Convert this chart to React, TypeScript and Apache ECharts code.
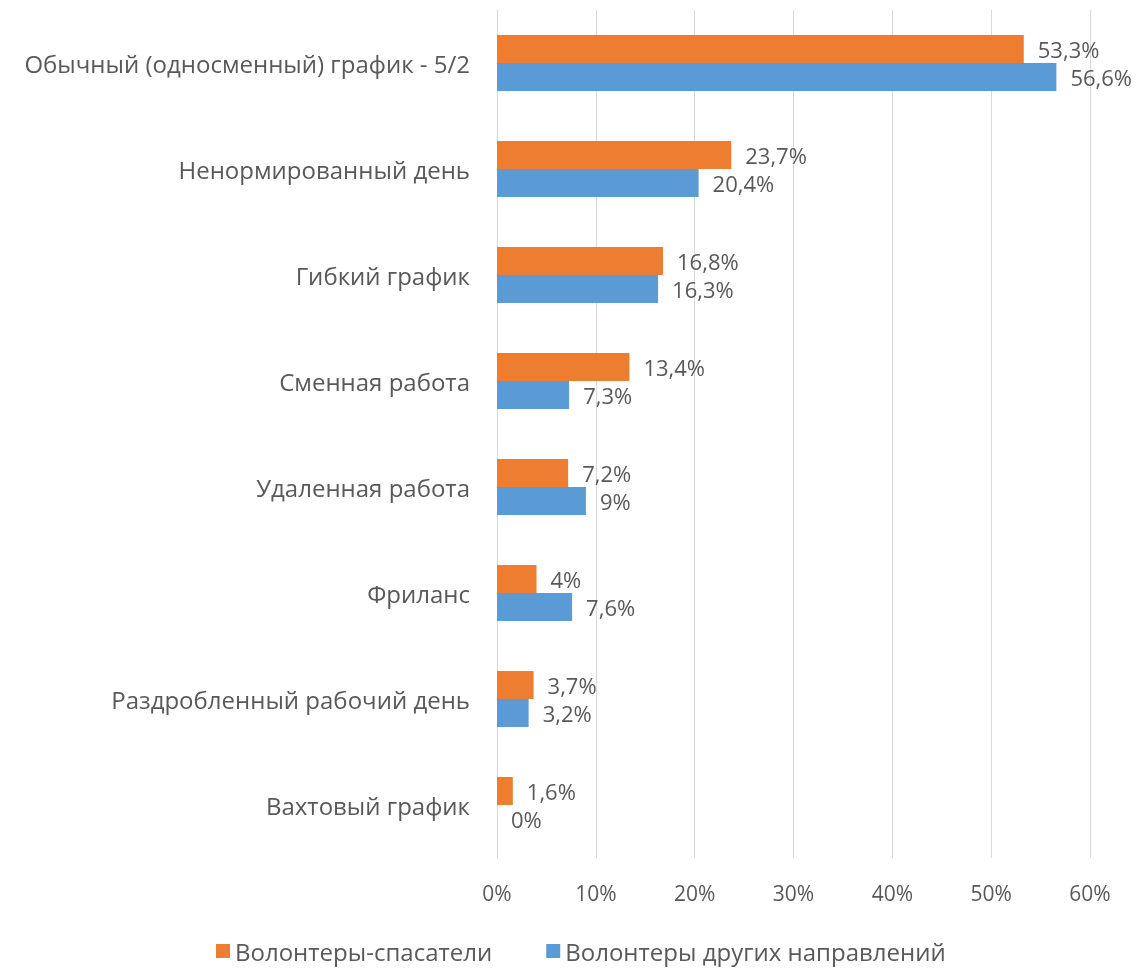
import React, { useEffect, useRef } from "react";
import * as echarts from "echarts";

const categories = [
  "Обычный (односменный) график - 5/2",
  "Ненормированный день",
  "Гибкий график",
  "Сменная работа",
  "Удаленная работа",
  "Фриланс",
  "Раздробленный рабочий день",
  "Вахтовый график",
];
const rescuers = [53.3, 23.7, 16.8, 13.4, 7.2, 4, 3.7, 1.6];
const others = [56.6, 20.4, 16.3, 7.3, 9, 7.6, 3.2, 0];
const seriesNames = ["Волонтеры-спасатели", "Волонтеры других направлений"];

const FONT = "'Open Sans', sans-serif";
const TEXT = "#595959";
const fmt = (v: number) => String(v).replace(".", ",") + "%";

export default function App() {
  const ref = useRef<HTMLDivElement>(null);
  useEffect(() => {
    if (!ref.current) return;
    const chart = echarts.init(ref.current, undefined, { renderer: "svg" });
    const label = {
      show: true,
      position: "right" as const,
      distance: 14,
      color: TEXT,
      fontSize: 22,
      fontFamily: FONT,
      formatter: (p: any) => fmt(p.value),
    };
    chart.setOption({
      animation: false,
      textStyle: { fontFamily: FONT },
      grid: { left: 497, right: 53, top: 10, bottom: 113, containLabel: false },
      legend: {
        bottom: 3,
        left: 211,
        itemWidth: 14,
        itemHeight: 14,
        itemGap: 54,
        icon: "rect",
        textStyle: { color: TEXT, fontSize: 24, fontFamily: FONT },
        data: seriesNames,
      },
      xAxis: {
        type: "value",
        min: 0,
        max: 60,
        interval: 10,
        axisLabel: {
          color: TEXT,
          fontSize: 21,
          fontFamily: FONT,
          margin: 24,
          formatter: (v: number) => v + "%",
        },
        splitLine: { show: true, lineStyle: { color: "#D9D9D9", width: 1 } },
        axisLine: { show: false },
        axisTick: { show: false },
      },
      yAxis: {
        type: "category",
        inverse: true,
        data: categories,
        axisLabel: { color: TEXT, fontSize: 24, fontFamily: FONT, margin: 27 },
        axisLine: { show: true, lineStyle: { color: "#D9D9D9" } },
        axisTick: { show: false },
      },
      series: [
        {
          name: seriesNames[0],
          type: "bar",
          data: rescuers,
          barWidth: 28,
          barGap: "0%",
          itemStyle: { color: "#ED7D31" },
          label,
        },
        {
          name: seriesNames[1],
          type: "bar",
          data: others,
          barWidth: 28,
          barGap: "0%",
          itemStyle: { color: "#5B9BD5" },
          label,
        },
      ],
    });
    return () => chart.dispose();
  }, []);
  return (
    <div
      ref={ref}
      style={{ position: "fixed", left: 0, top: 0, width: 1143, height: 971 }}
    />
  );
}
